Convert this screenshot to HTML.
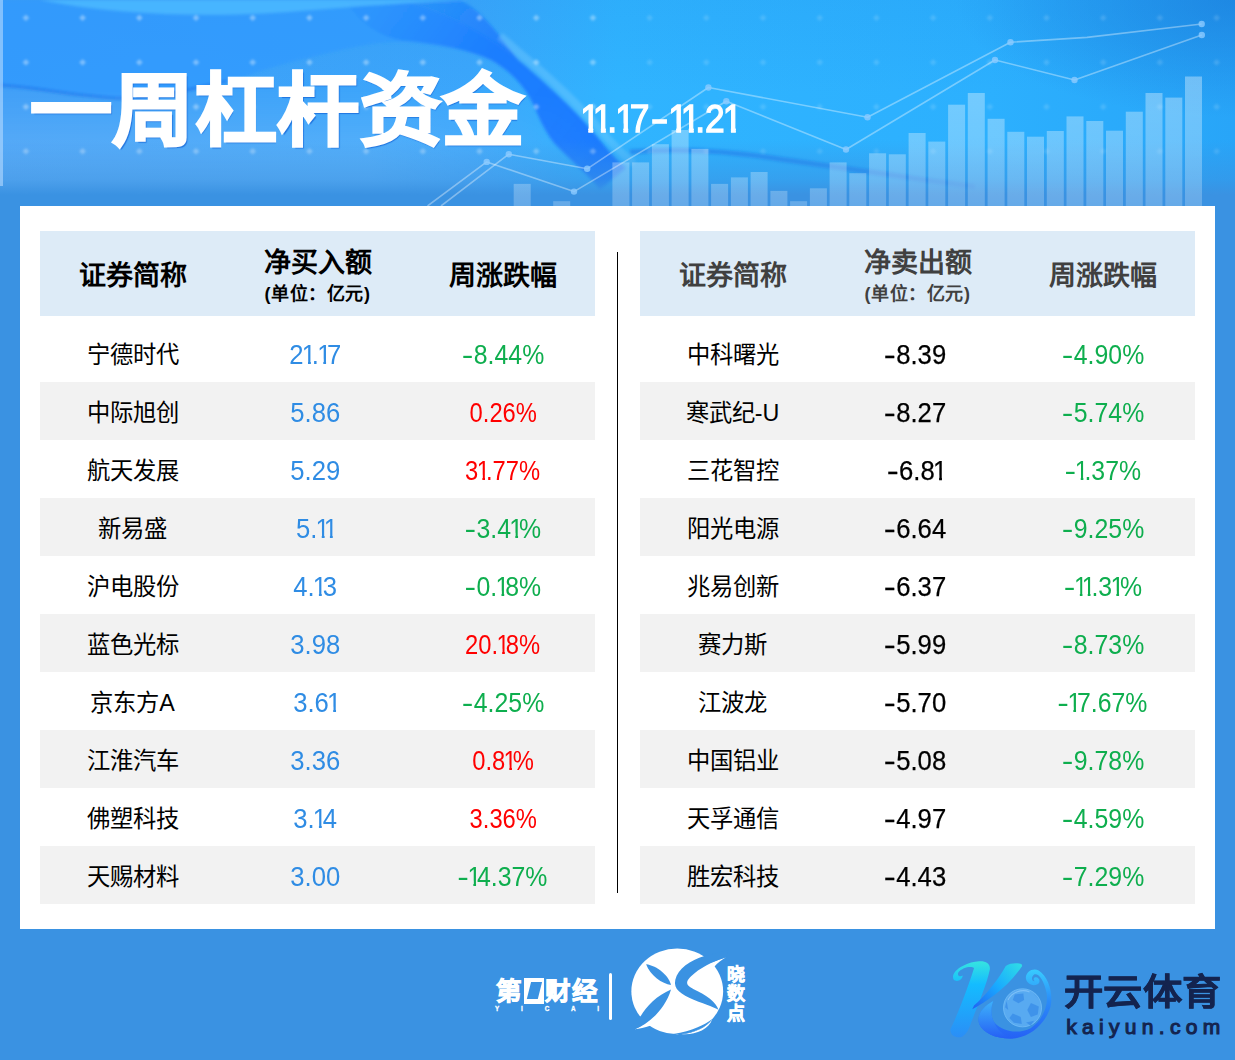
<!DOCTYPE html>
<html lang="zh-CN">
<head>
<meta charset="utf-8">
<title>一周杠杆资金</title>
<style>
*{box-sizing:border-box;margin:0;padding:0}
html,body{width:1235px;height:1060px;overflow:hidden}
body{background:#3a92e2;font-family:"Liberation Sans",sans-serif;position:relative;color:#000}
#hd{position:absolute;left:0;top:0;width:1235px;height:206px;overflow:hidden}
#hd svg{position:absolute;left:0;top:0}
#title{position:absolute;left:30px;top:51.4px;font-size:82px;font-weight:900;color:#fff;line-height:120px;white-space:nowrap;letter-spacing:.4px;-webkit-text-stroke:2.4px #fff;transform-origin:0 98.6px;transform:scaleY(.965);text-shadow:1.5px 2px 1px rgba(20,100,215,.75)}
#date{position:absolute;left:582.3px;top:96px;font-size:38px;line-height:46px;color:#fff;white-space:nowrap;transform-origin:0 50%;transform:scaleX(.93);-webkit-text-stroke:1.3px #fff}
i{font-style:normal;display:inline-block;clip-path:polygon(0 0,63% 0,63% 100%,43% 100%,43% 62%,0 62%);margin:0 -.17em 0 -.07em}
#date u{transform:scaleX(1.5);margin:0 .13em 0 .12em}
#date i{margin:0 -.15em 0 -.05em;clip-path:polygon(-5% 0,66% 0,66% 100%,41% 100%,41% 60%,-5% 60%)}
#card{position:absolute;left:20px;top:206px;width:1195px;height:723px;background:#fff}
.tb{position:absolute;top:25px;width:555px}
#tl{left:20px}#tr{left:620px}
.th{height:85px;background:#ddebf7;display:flex;margin-bottom:8px;font-weight:bold}
.th .c{height:85px;flex-direction:column;padding-top:4px}
.th .h1{font-size:27px;line-height:34px}
.th .two{margin-top:-2px;position:relative;top:.8px}
.th .h2{font-size:18px;line-height:24px;letter-spacing:.6px;margin-top:1.5px;position:relative;top:1.5px}
#tr .th{color:#404040}
.r{height:58px;display:flex}
.g{background:#f2f2f2}
.c{width:185px;height:58px;display:flex;align-items:center;justify-content:center;white-space:nowrap}
.nm{font-size:23.3px}
.n{display:inline-block;font-size:27px;transform:scaleX(.95);position:relative;top:2px}
.bl{color:#2f8ce4}.bk{color:#000;-webkit-text-stroke:.25px #000}.bl .n,.bk .n{left:-2.5px}.dn .n,.up .n{transform:scaleX(.92);left:.5px}.up .n{transform:scaleX(.88)}
u{text-decoration:none;display:inline-block;transform:scaleX(1.4);margin:0 .07em 0 .05em}.dn{color:#0eae4e}.up{color:#ff0000}
#vl{position:absolute;left:597px;top:46px;width:1.3px;height:641px;background:#000}
#ft{position:absolute;left:0;top:929px;width:1235px;height:131px}
#yc{position:absolute;left:496px;top:44px;width:104px;height:50px;color:#fff;white-space:nowrap;font-size:0}
.y1{position:relative;top:.8px;font-size:25.5px;font-weight:bold;line-height:34px;letter-spacing:.2px;display:inline-block;vertical-align:top;-webkit-text-stroke:.9px #fff}
.ybox{display:inline-block;vertical-align:top;width:19.5px;height:25.5px;margin:5.3px 1.6px 0 2.2px;background:#fff;position:relative}
.ybox b{position:absolute;left:4.5px;top:4px;width:10.5px;height:16.5px;background:#3a92e2;transform:skewX(-14deg)}
.yl{position:absolute;left:-1px;top:32px;width:104px;font-size:6.3px;line-height:8px;font-weight:bold;text-align:justify;text-align-last:justify;-webkit-text-stroke:.3px #fff}
#fl{position:absolute;left:608.8px;top:43.5px;width:3.2px;height:47px;background:#fff;border-radius:1.6px}
#xs{position:absolute;left:620px;top:6px}
#xsd{position:absolute;left:727px;top:37px;font-size:18px;line-height:19.3px;font-weight:bold;color:#fff;-webkit-text-stroke:.6px #fff}
#ky{position:absolute;left:940px;top:21px}
#kt{position:absolute;left:1064px;top:39.6px;font-size:36px;line-height:48px;font-weight:bold;color:#14244f;letter-spacing:0;white-space:nowrap;-webkit-text-stroke:.5px #14244f;transform-origin:0 50%;transform:scaleX(1.092)}
#ku{position:absolute;left:1066.3px;top:84.8px;font-size:21px;line-height:26px;color:#14244f;letter-spacing:5.3px;white-space:nowrap;-webkit-text-stroke:1.1px #14244f}
</style>
</head>
<body>
<div id="hd">
<svg width="1235" height="206" viewBox="0 0 1235 206">
<defs>
<linearGradient id="bg" x1="0" y1="0" x2="1" y2="0">
<stop offset="0" stop-color="#409ff7"/><stop offset=".38" stop-color="#3ba6fb"/><stop offset=".5" stop-color="#30b4ff"/><stop offset=".8" stop-color="#2cb0fe"/><stop offset="1" stop-color="#28a5f8"/>
</linearGradient>
<linearGradient id="vg" x1="0" y1="0" x2="0" y2="1"><stop offset="0" stop-color="#1a7fe0" stop-opacity=".12"/><stop offset=".45" stop-color="#1a7fe0" stop-opacity="0"/></linearGradient>
<radialGradient id="rc" cx="1235" cy="0" r="280" gradientUnits="userSpaceOnUse" gradientTransform="translate(1235,0) scale(1,.42) translate(-1235,0)"><stop offset="0" stop-color="#1b7fdc" stop-opacity=".72"/><stop offset="1" stop-color="#1b7fdc" stop-opacity="0"/></radialGradient>
<linearGradient id="fade" x1="0" y1="0" x2="0" y2="206" gradientUnits="userSpaceOnUse">
<stop offset="0" stop-color="#3a92e2" stop-opacity="0"/><stop offset=".68" stop-color="#3a92e2" stop-opacity="0"/><stop offset=".87" stop-color="#3a92e2" stop-opacity=".55"/><stop offset=".945" stop-color="#3a92e2" stop-opacity="1"/><stop offset="1" stop-color="#3a92e2" stop-opacity="1"/>
</linearGradient>
<linearGradient id="glowv" x1="0" y1="0" x2="0" y2="206" gradientUnits="userSpaceOnUse">
<stop offset=".42" stop-color="#fff" stop-opacity="0"/><stop offset=".72" stop-color="#fff" stop-opacity=".6"/><stop offset=".9" stop-color="#fff" stop-opacity="1"/><stop offset="1" stop-color="#fff" stop-opacity="1"/>
</linearGradient>
<linearGradient id="glowh" x1="0" y1="0" x2="1235" y2="0" gradientUnits="userSpaceOnUse">
<stop offset="0" stop-color="#fff" stop-opacity=".2"/><stop offset=".3" stop-color="#fff" stop-opacity=".2"/><stop offset=".5" stop-color="#fff" stop-opacity="0"/>
</linearGradient>
<linearGradient id="bandg" x1="380" y1="0" x2="590" y2="160" gradientUnits="userSpaceOnUse"><stop offset="0" stop-color="#0f6aff" stop-opacity=".12"/><stop offset=".45" stop-color="#0f6aff" stop-opacity=".6"/><stop offset="1" stop-color="#0f6aff" stop-opacity=".72"/></linearGradient>
<mask id="gm"><rect width="1235" height="206" fill="url(#glowv)"/></mask>
<linearGradient id="barg" x1="0" y1="76" x2="0" y2="206" gradientUnits="userSpaceOnUse">
<stop offset="0" stop-color="#fff" stop-opacity=".35"/><stop offset=".6" stop-color="#fff" stop-opacity=".3"/><stop offset="1" stop-color="#fff" stop-opacity=".22"/>
</linearGradient>
<pattern id="dots" x="-2.4" y="-4.4" width="56.7" height="44.5" patternUnits="userSpaceOnUse">
<path d="M28.3 19l3.4 3.2-3.4 3.2-3.4-3.2z" fill="#fff" fill-opacity=".36"/>
</pattern>
<filter id="bl2"><feGaussianBlur stdDeviation="1.6"/></filter>
<filter id="bl1"><feGaussianBlur stdDeviation=".9"/></filter>
</defs>
<rect width="1235" height="206" fill="url(#bg)"/>
<rect width="1235" height="206" fill="url(#vg)"/>
<rect width="1235" height="206" fill="url(#rc)"/>
<g filter="url(#bl2)">
<path d="M0 0H400C450 14 490 36 518 60C540 78 575 110 593 132C605 146 612 156 622 166L600 186C590 176 570 160 554 143C540 125 535 105 527 93C515 75 500 65 491 60C470 50 430 42 397 42C370 42 340 50 312 57C270 66 250 76 227 81C180 92 150 100 113 98C70 95 40 88 0 85Z" fill="#2c98ff" fill-opacity=".7"/>
<path d="M460 0C482 10 500 36 518 60C540 78 575 110 593 132C605 146 612 156 626 168L600 190C590 176 570 160 554 143C540 125 535 105 527 93C515 75 500 65 491 60C470 50 440 44 400 40C380 36 360 24 345 0Z" fill="url(#bandg)"/>
<path d="M500 36C512 46 520 54 528 60C550 78 584 110 602 132C614 146 622 154 634 164" fill="none" stroke="#86d4ff" stroke-opacity=".32" stroke-width="8"/>
<path d="M40 0C120 16 220 18 300 11C360 6 420 2 470 0Z" fill="#4ab8ff" fill-opacity=".9"/>
<path d="M0 85C40 88 70 95 113 98C150 100 180 92 227 81" fill="none" stroke="#1468e8" stroke-opacity=".5" stroke-width="3"/>
<path d="M630 152C700 146 760 156 800 162C860 170 920 180 975 187" fill="none" stroke="#1a6ae8" stroke-opacity=".5" stroke-width="5"/>
</g>
<rect width="1235" height="206" fill="url(#glowh)" mask="url(#gm)"/>
<g filter="url(#bl1)"><rect width="640" height="206" fill="url(#dots)"/>
<rect x="640" width="595" height="206" fill="url(#dots)" opacity=".4"/></g>
<rect width="1235" height="206" fill="url(#fade)"/>
<g fill="url(#barg)"><rect x="513.7" y="183.9" width="17" height="22.1"/><rect x="553.2" y="201.2" width="17" height="4.8"/><rect x="612.4" y="162.4" width="17" height="43.6"/><rect x="632.1" y="162.4" width="17" height="43.6"/><rect x="651.9" y="144.2" width="17" height="61.8"/><rect x="671.6" y="130.0" width="17" height="76.0"/><rect x="691.4" y="148.9" width="17" height="57.1"/><rect x="711.1" y="183.9" width="17" height="22.1"/><rect x="730.9" y="177.4" width="17" height="28.6"/><rect x="750.6" y="172.0" width="17" height="34.0"/><rect x="770.4" y="190.9" width="17" height="15.1"/><rect x="790.1" y="201.2" width="17" height="4.8"/><rect x="809.9" y="188.3" width="17" height="17.7"/><rect x="829.6" y="162.4" width="17" height="43.6"/><rect x="849.3" y="173.2" width="17" height="32.8"/><rect x="869.1" y="153.3" width="17" height="52.7"/><rect x="888.8" y="154.3" width="17" height="51.7"/><rect x="908.6" y="133.0" width="17" height="73.0"/><rect x="928.3" y="141.6" width="17" height="64.4"/><rect x="948.1" y="104.7" width="17" height="101.3"/><rect x="967.8" y="93.0" width="17" height="113.0"/><rect x="987.6" y="118.8" width="17" height="87.2"/><rect x="1007.3" y="131.8" width="17" height="74.2"/><rect x="1027.0" y="136.7" width="17" height="69.3"/><rect x="1046.8" y="131.0" width="17" height="75.0"/><rect x="1066.5" y="116.4" width="17" height="89.6"/><rect x="1086.3" y="121.0" width="17" height="85.0"/><rect x="1106.0" y="130.7" width="17" height="75.3"/><rect x="1125.8" y="111.7" width="17" height="94.3"/><rect x="1145.5" y="93.0" width="17" height="113.0"/><rect x="1165.3" y="97.6" width="17" height="108.4"/><rect x="1185.0" y="76.5" width="17" height="129.5"/></g>
<g fill="none" stroke="#fff" stroke-opacity=".36" stroke-width="1.6" stroke-linejoin="round">
<polyline points="441,206 508.8,154.2 587.2,168.8 708.4,87.5 867.5,117.3 1010.5,42.2 1087,37.4 1201.7,24"/><polyline points="427.5,206 486.7,161.9 574,191.6 726.3,101.3 846,149.5 995,60 1074.5,80 1201.8,35"/>
</g>
<g fill="#8ccaff" fill-opacity=".8"><circle cx="508.8" cy="154.2" r="3.2"/><circle cx="587.2" cy="168.8" r="3.2"/><circle cx="708.4" cy="87.5" r="3.2"/><circle cx="867.5" cy="117.3" r="3.2"/><circle cx="1010.5" cy="42.2" r="3.2"/><circle cx="1201.7" cy="24" r="3.2"/><circle cx="486.7" cy="161.9" r="3.2"/><circle cx="574" cy="191.6" r="3.2"/><circle cx="726.3" cy="101.3" r="3.2"/><circle cx="846" cy="149.5" r="3.2"/><circle cx="995" cy="60" r="3.2"/><circle cx="1074.5" cy="80" r="3.2"/><circle cx="1201.8" cy="35" r="3.2"/></g>
<rect x="0" y="0" width="3" height="186" fill="#b5dbff" fill-opacity=".6"/>
</svg>
<div id="title">一周杠杆资金</div>
<div id="date"><i>1</i><i>1</i>.<i>1</i>7<u>-</u><i>1</i><i>1</i>.2<i>1</i></div>
</div>

<div id="card">
<div class="tb" id="tl">
<div class="th"><div class="c"><div class="h1">证券简称</div></div><div class="c"><div class="h1 two">净买入额</div><div class="h2">(单位：亿元)</div></div><div class="c"><div class="h1">周涨跌幅</div></div></div>
<div class="r"><div class="c nm">宁德时代</div><div class="c bl"><span class="n">2<i>1</i>.<i>1</i>7</span></div><div class="c dn"><span class="n"><u>-</u>8.44%</span></div></div>
<div class="r g"><div class="c nm">中际旭创</div><div class="c bl"><span class="n">5.86</span></div><div class="c up"><span class="n">0.26%</span></div></div>
<div class="r"><div class="c nm">航天发展</div><div class="c bl"><span class="n">5.29</span></div><div class="c up"><span class="n">3<i>1</i>.77%</span></div></div>
<div class="r g"><div class="c nm">新易盛</div><div class="c bl"><span class="n">5.<i>1</i><i>1</i></span></div><div class="c dn"><span class="n"><u>-</u>3.4<i>1</i>%</span></div></div>
<div class="r"><div class="c nm">沪电股份</div><div class="c bl"><span class="n">4.<i>1</i>3</span></div><div class="c dn"><span class="n"><u>-</u>0.<i>1</i>8%</span></div></div>
<div class="r g"><div class="c nm">蓝色光标</div><div class="c bl"><span class="n">3.98</span></div><div class="c up"><span class="n">20.<i>1</i>8%</span></div></div>
<div class="r"><div class="c nm">京东方A</div><div class="c bl"><span class="n">3.6<i>1</i></span></div><div class="c dn"><span class="n"><u>-</u>4.25%</span></div></div>
<div class="r g"><div class="c nm">江淮汽车</div><div class="c bl"><span class="n">3.36</span></div><div class="c up"><span class="n">0.8<i>1</i>%</span></div></div>
<div class="r"><div class="c nm">佛塑科技</div><div class="c bl"><span class="n">3.<i>1</i>4</span></div><div class="c up"><span class="n">3.36%</span></div></div>
<div class="r g"><div class="c nm">天赐材料</div><div class="c bl"><span class="n">3.00</span></div><div class="c dn"><span class="n"><u>-</u><i>1</i>4.37%</span></div></div>
</div>
<div id="vl"></div>
<div class="tb" id="tr">
<div class="th"><div class="c"><div class="h1">证券简称</div></div><div class="c"><div class="h1 two">净卖出额</div><div class="h2">(单位：亿元)</div></div><div class="c"><div class="h1">周涨跌幅</div></div></div>
<div class="r"><div class="c nm">中科曙光</div><div class="c bk"><span class="n"><u>-</u>8.39</span></div><div class="c dn"><span class="n"><u>-</u>4.90%</span></div></div>
<div class="r g"><div class="c nm">寒武纪-U</div><div class="c bk"><span class="n"><u>-</u>8.27</span></div><div class="c dn"><span class="n"><u>-</u>5.74%</span></div></div>
<div class="r"><div class="c nm">三花智控</div><div class="c bk"><span class="n"><u>-</u>6.8<i>1</i></span></div><div class="c dn"><span class="n"><u>-</u><i>1</i>.37%</span></div></div>
<div class="r g"><div class="c nm">阳光电源</div><div class="c bk"><span class="n"><u>-</u>6.64</span></div><div class="c dn"><span class="n"><u>-</u>9.25%</span></div></div>
<div class="r"><div class="c nm">兆易创新</div><div class="c bk"><span class="n"><u>-</u>6.37</span></div><div class="c dn"><span class="n"><u>-</u><i>1</i><i>1</i>.3<i>1</i>%</span></div></div>
<div class="r g"><div class="c nm">赛力斯</div><div class="c bk"><span class="n"><u>-</u>5.99</span></div><div class="c dn"><span class="n"><u>-</u>8.73%</span></div></div>
<div class="r"><div class="c nm">江波龙</div><div class="c bk"><span class="n"><u>-</u>5.70</span></div><div class="c dn"><span class="n"><u>-</u><i>1</i>7.67%</span></div></div>
<div class="r g"><div class="c nm">中国铝业</div><div class="c bk"><span class="n"><u>-</u>5.08</span></div><div class="c dn"><span class="n"><u>-</u>9.78%</span></div></div>
<div class="r"><div class="c nm">天孚通信</div><div class="c bk"><span class="n"><u>-</u>4.97</span></div><div class="c dn"><span class="n"><u>-</u>4.59%</span></div></div>
<div class="r g"><div class="c nm">胜宏科技</div><div class="c bk"><span class="n"><u>-</u>4.43</span></div><div class="c dn"><span class="n"><u>-</u>7.29%</span></div></div>
</div>
</div>

<div id="ft">
<div id="yc"><span class="y1">第</span><span class="ybox"><b></b></span><span class="y1">财经</span><div class="yl">Y I C A I</div></div>
<div id="fl"></div>
<svg id="xs" width="140" height="110" viewBox="0 0 1235 970">
<ellipse cx="505" cy="497" rx="405" ry="378" fill="#fff"/>
<path d="M935 197C900 218 858 246 832 280L700 400L700 280Z" fill="#fff"/>
<path d="M814 742C762 815 650 868 540 873C655 884 780 838 814 742Z" fill="#fff"/>
<path d="M130 832C200 800 300 720 350 650L400 800L265 800C220 815 170 828 130 832Z" fill="#fff"/>
<g fill="#3a92e2">
<path d="M935 197C860 222 740 268 655 340C570 410 575 440 650 478C760 530 850 590 868 660C845 640 770 618 650 570C540 525 468 480 488 395C510 300 620 220 745 185L960 130Z"/>
<path d="M230 258C330 270 430 360 450 440C370 430 270 360 230 258Z"/>
<path d="M450 480C330 530 230 630 183 714L100 800L130 832C260 780 400 650 450 480Z"/>
<path d="M814 740C745 795 640 842 470 874L540 873C650 862 760 815 814 740Z"/>
</g>
</svg>
<div id="xsd">晓<br>数<br>点</div>
<svg id="ky" width="140" height="100" viewBox="0 0 1235 882">
<defs>
<linearGradient id="k1" x1="0" y1="100" x2="0" y2="780" gradientUnits="userSpaceOnUse"><stop offset="0" stop-color="#36e4e0"/><stop offset=".3" stop-color="#14bcff"/><stop offset="1" stop-color="#2b8df6"/></linearGradient>
<linearGradient id="k2" x1="720" y1="120" x2="290" y2="520" gradientUnits="userSpaceOnUse"><stop offset="0" stop-color="#2fdde6"/><stop offset=".5" stop-color="#19aaff"/><stop offset="1" stop-color="#2262f2"/></linearGradient>
<linearGradient id="k3" x1="0" y1="170" x2="0" y2="790" gradientUnits="userSpaceOnUse"><stop offset="0" stop-color="#38ccff"/><stop offset=".45" stop-color="#2b8cf8"/><stop offset="1" stop-color="#2560f5"/></linearGradient>
<linearGradient id="k4" x1="0" y1="440" x2="0" y2="780" gradientUnits="userSpaceOnUse"><stop offset="0" stop-color="#3fb4fa"/><stop offset="1" stop-color="#2560f5"/></linearGradient>
</defs>
<path d="M345 100C400 95 445 120 440 170C415 300 320 520 275 640C255 700 235 742 195 765C150 780 90 760 92 700C140 600 230 380 300 160C280 140 200 150 160 200C150 230 180 240 200 225C200 260 150 290 120 260C100 220 140 170 200 140C250 115 300 102 345 100Z" fill="url(#k1)"/>
<path d="M720 125C690 112 620 112 580 140C520 250 420 380 300 490L285 522C420 450 600 330 725 140Z" fill="url(#k2)"/>
<path d="M470 450C380 500 320 570 345 650C380 740 520 790 650 780C800 765 930 650 975 500C1000 380 960 240 870 180C820 155 760 190 757 245C760 300 830 330 870 295C890 270 870 235 840 240C825 245 820 265 835 275C810 280 800 240 830 215C870 200 920 270 940 380C960 500 900 620 800 690C700 740 560 730 480 640C440 580 450 500 470 450Z" fill="url(#k3)"/>
<path d="M470 450C380 500 320 570 345 650C380 740 520 790 650 780C560 760 500 700 480 640C440 580 450 500 470 450Z" fill="url(#k4)"/>
<circle cx="728" cy="510" r="168" fill="#63b2f6" fill-opacity=".75" stroke="#7cc4fb" stroke-width="8" stroke-opacity=".7"/>
<g fill="#3a8de8" fill-opacity=".8">
<path d="M660 392L735 384L742 440L692 470L642 440Z"/>
<path d="M802 468L872 498L862 568L802 590L770 530Z"/>
<path d="M642 560L712 590L722 652L652 642L612 600Z"/>
<path d="M588 450L602 530L574 505Z"/>
<path d="M822 382L872 432L846 404Z"/>
<path d="M760 640L830 625L800 668Z"/>
</g>
<path d="M600 440A150 150 0 0 1 790 370" fill="none" stroke="#a5d8ff" stroke-opacity=".5" stroke-width="10"/>
</svg>
<div id="kt">开云体育</div>
<div id="ku">kaiyun.com</div>
</div>
</body>
</html>
